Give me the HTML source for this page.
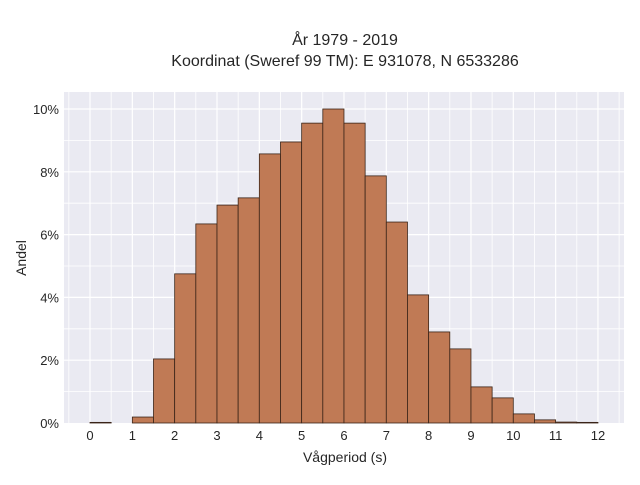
<!DOCTYPE html>
<html><head><meta charset="utf-8"><style>
body{margin:0;background:#fff;font-family:"Liberation Sans",sans-serif;}
</style></head><body>
<svg width="640" height="480" xmlns="http://www.w3.org/2000/svg">
<text x="345" y="45" text-anchor="middle" font-size="16" fill="#262626">År 1979 - 2019</text>
<text x="345" y="66" text-anchor="middle" font-size="16" fill="#262626">Koordinat (Sweref 99 TM): E 931078, N 6533286</text>
<rect x="64" y="92" width="560" height="331" fill="#eaeaf2"/>
<g id="grid"></g><g id="bars"></g><g id="ticks"></g>
<text x="345" y="462" text-anchor="middle" font-size="14" fill="#262626">Vågperiod (s)</text>
<text x="26" y="258" text-anchor="middle" font-size="14" fill="#262626" transform="rotate(-90 26 258)">Andel</text>
</svg>
<script>
const binStarts=[0,0.5,1,1.5,2,2.5,3,3.5,4,4.5,5,5.5,6,6.5,7,7.5,8,8.5,9,9.5,10,10.5,11,11.5];
const shares=[0.02,0,0.19,2.04,4.75,6.34,6.94,7.17,8.57,8.95,9.55,10.0,9.55,7.87,6.4,4.08,2.9,2.36,1.15,0.8,0.29,0.1,0.03,0.02];
const xTicks=[0,1,2,3,4,5,6,7,8,9,10,11,12];
const yTicks=[0,2,4,6,8,10];
const binWidth=0.5;
const NS="http://www.w3.org/2000/svg";
const sx=v=>90+v*42.33, sy=v=>423-v*31.4;
function mk(t,a,p){const e=document.createElementNS(NS,t);for(const k in a)e.setAttribute(k,a[k]);p.appendChild(e);return e;}
const g=document.getElementById('grid'),b=document.getElementById('bars'),tk=document.getElementById('ticks');
for(let v=-0.5;v<=12.5;v+=0.5){const l=mk('line',{x1:sx(v),x2:sx(v),y1:92,y2:423,stroke:'#fff','stroke-width':Number.isInteger(v)?1.2:0.8},g);

}
for(let v=1;v<=10;v+=1){const l=mk('line',{x1:64,x2:624,y1:sy(v),y2:sy(v),stroke:'#fff','stroke-width':v%2?0.8:1.2},g);

}
binStarts.forEach((s,i)=>{const y=sy(shares[i]);const r=mk('rect',{x:sx(s),y:y,width:sx(s+binWidth)-sx(s),height:423-y,fill:'#c07a55',stroke:'#3a2418','stroke-width':0.8},b);

});
xTicks.forEach(v=>{const t=mk('text',{x:sx(v),y:440,'text-anchor':'middle','font-size':13,fill:'#262626'},tk);t.textContent=v;

});
yTicks.forEach(v=>{const t=mk('text',{x:59,y:sy(v)+5,'text-anchor':'end','font-size':13,fill:'#262626'},tk);t.textContent=v+'%';

});
</script>
</body></html>
